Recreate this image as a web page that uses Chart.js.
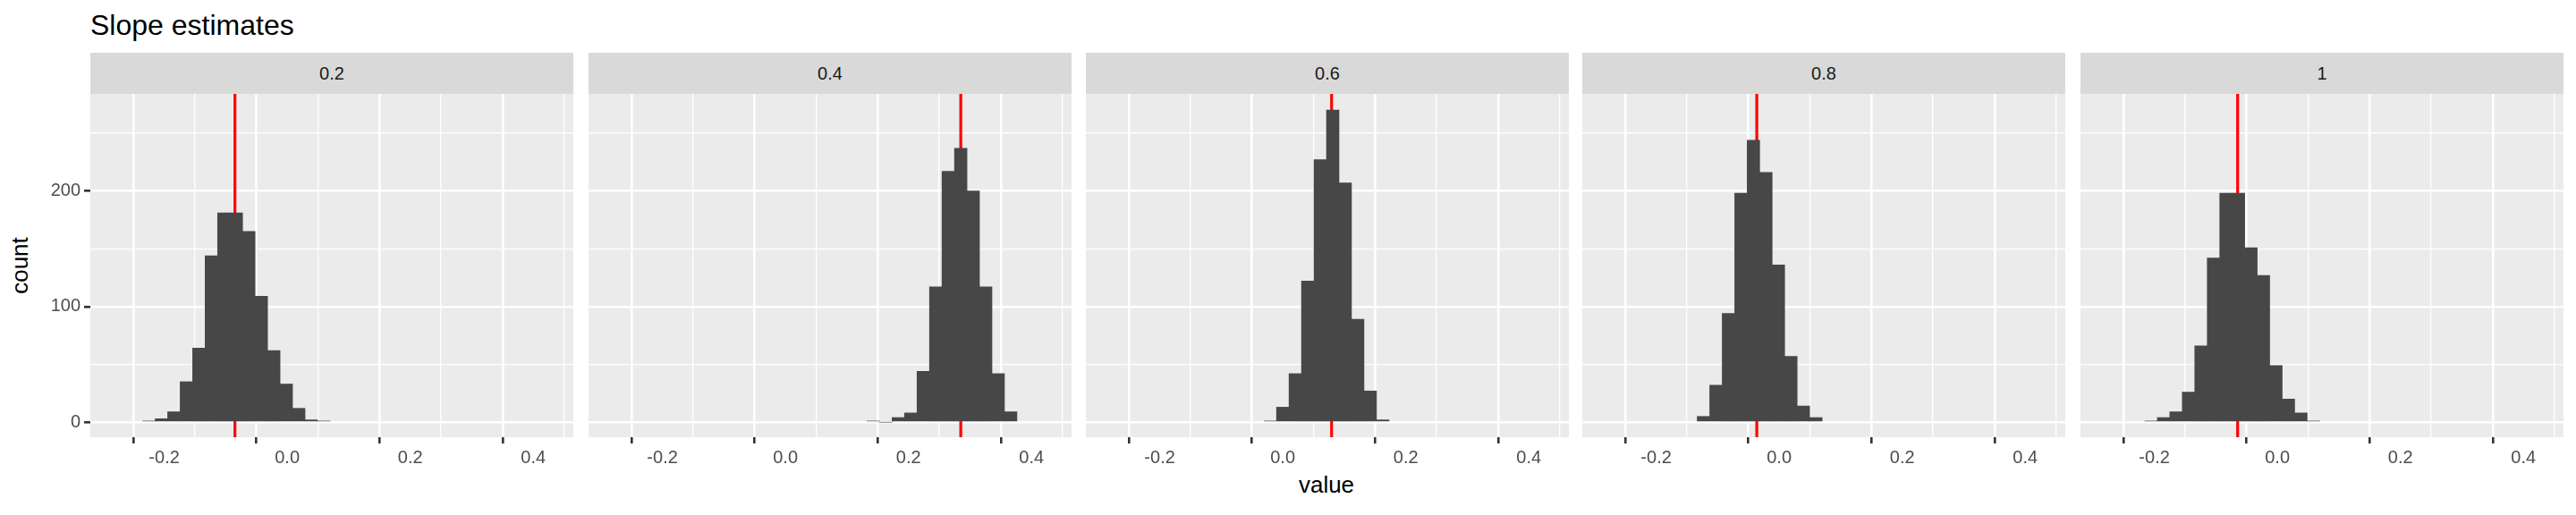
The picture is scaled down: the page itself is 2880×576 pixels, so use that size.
<!DOCTYPE html>
<html>
<head>
<meta charset="utf-8">
<script src="https://cdn.jsdelivr.net/npm/chart.js@4/dist/chart.umd.min.js"></script>
<style>
  body { margin: 0; background: #fff; font-family: "Liberation Sans", Arial, sans-serif; }
  #wrap { position: relative; width: 2880px; height: 576px; overflow: hidden; }
  .strip { position: absolute; top: 59px; height: 46px; background: #d9d9d9; color: #1a1a1a;
           font-size: 20px; line-height: 46px; text-align: center; }
  canvas { position: absolute; }
  #title { position: absolute; left: 101px; top: 10px; font-size: 32px; color: #000; }
  #ylab { position: absolute; left: 22px; top: 297px; font-size: 26px; transform: translate(-50%,-50%) rotate(-90deg); }
  #xlab { position: absolute; left: 1483px; top: 527px; font-size: 26px; transform: translateX(-50%); }
</style>
</head>
<body>
<div id="wrap">
  <div id="title">Slope estimates</div>
  <div id="ylab">count</div>
  <div id="xlab">value</div>
</div>
<script>
// facet labels
const facets = ['0.2', '0.4', '0.6', '0.8', '1'];
const binWidth = 0.0203;
// left edge of first bin in each facet
const binStart = [-0.235, 0.1327, -0.0304, -0.1332, -0.2155];
// histogram counts per facet
const counts02 = [1, 3, 9, 35, 64, 144, 181, 181, 165, 109, 62, 33, 12, 2, 1];
const counts04 = [1, 0, 4, 8, 44, 117, 217, 237, 200, 117, 42, 9];
const counts06 = [1, 13, 42, 122, 227, 270, 207, 89, 27, 2];
const counts08 = [5, 32, 94, 198, 244, 216, 136, 57, 14, 4];
const counts1 = [1, 4, 9, 26, 66, 142, 198, 198, 151, 127, 49, 20, 8, 1];
const allCounts = [counts02, counts04, counts06, counts08, counts1];
// red reference lines (mean estimate)
const meanLine = [-0.085, 0.285, 0.0794, -0.0364, -0.0646];
const xTicks = [-0.2, -0.1, 0, 0.1, 0.2, 0.3, 0.4];
const yTicks = [0, 50, 100, 150, 200, 250];

const xMin = -0.264, xMax = 0.409, yMin = -13, yMax = 284;
const panelLeft = [101, 658, 1214, 1769, 2326];
const panelW = 540, plotTop = 105, plotBottom = 489;

const wrap = document.getElementById('wrap');

const panelBg = {
  id: 'panelBg',
  beforeDraw(chart) {
    const a = chart.chartArea, c = chart.ctx;
    c.save(); c.fillStyle = '#ebebeb';
    c.fillRect(a.left, a.top, a.right - a.left, a.bottom - a.top);
    c.restore();
  }
};

const isMajor = (v, step) => Math.abs(Math.round(v / step) * step - v) < 1e-6;
const tv = c => (c.tick ? c.tick.value : NaN);

facets.forEach((name, i) => {
  const strip = document.createElement('div');
  strip.className = 'strip';
  strip.style.left = panelLeft[i] + 'px';
  strip.style.width = panelW + 'px';
  strip.textContent = name;
  wrap.appendChild(strip);

  const padL = i === 0 ? 61 : 0, padR = 20;
  const cv = document.createElement('canvas');
  const w = panelW + padL + padR, h = 576 - plotTop;
  cv.style.left = (panelLeft[i] - padL) + 'px';
  cv.style.top = plotTop + 'px';
  cv.width = w; cv.height = h;
  cv.style.width = w + 'px'; cv.style.height = h + 'px';
  wrap.appendChild(cv);

  const bars = allCounts[i].map((c, k) => ({ x: binStart[i] + (k + 0.5) * binWidth, y: c }));

  new Chart(cv, {
    data: {
      datasets: [
        { type: 'bar', data: bars, backgroundColor: '#474747', borderWidth: 0,
          barPercentage: 1, categoryPercentage: 1, grouped: false },
        { type: 'line', data: [{ x: meanLine[i], y: yMin }, { x: meanLine[i], y: yMax }],
          borderColor: '#ff0000', borderWidth: 3.2, pointRadius: 0 }
      ]
    },
    options: {
      responsive: false, animation: false, devicePixelRatio: 1,
      layout: { padding: { left: 0, right: padR, top: 0, bottom: 0 } },
      plugins: { legend: { display: false }, tooltip: { enabled: false } },
      scales: {
        x: {
          type: 'linear', min: xMin, max: xMax,
          afterBuildTicks: s => { s.ticks = xTicks.map(v => ({ value: v })); },
          afterFit: s => { s.height = h - (plotBottom - plotTop); s.paddingLeft = 0; s.paddingRight = 0; },
          border: { display: false },
          grid: {
            color: '#ffffff', tickLength: 7,
            lineWidth: c => isMajor(tv(c), 0.2) ? 2.6 : 1.3,
            tickColor: c => isMajor(tv(c), 0.2) ? '#333333' : 'rgba(0,0,0,0)',
            tickWidth: 2.6
          },
          ticks: {
            color: '#4d4d4d', font: { family: 'Liberation Sans', size: 20 }, padding: 4,
            maxRotation: 0, autoSkip: false,
            callback: v => isMajor(v, 0.2) ? v.toFixed(1) : ''
          }
        },
        y: {
          min: yMin, max: yMax,
          afterBuildTicks: s => { s.ticks = yTicks.map(v => ({ value: v })); },
          afterFit: s => { s.width = padL; s.paddingTop = 0; s.paddingBottom = 0; },
          border: { display: false },
          grid: {
            color: '#ffffff', tickLength: i === 0 ? 7 : 0,
            lineWidth: c => isMajor(tv(c), 100) ? 2.6 : 1.3,
            tickColor: c => (i === 0 && isMajor(tv(c), 100)) ? '#333333' : 'rgba(0,0,0,0)',
            tickWidth: 2.6
          },
          ticks: {
            display: i === 0, color: '#4d4d4d', font: { family: 'Liberation Sans', size: 20 }, padding: 4,
            autoSkip: false,
            callback: v => isMajor(v, 100) ? String(v) : ''
          }
        }
      }
    },
    plugins: [panelBg]
  });
});
</script>
</body>
</html>
